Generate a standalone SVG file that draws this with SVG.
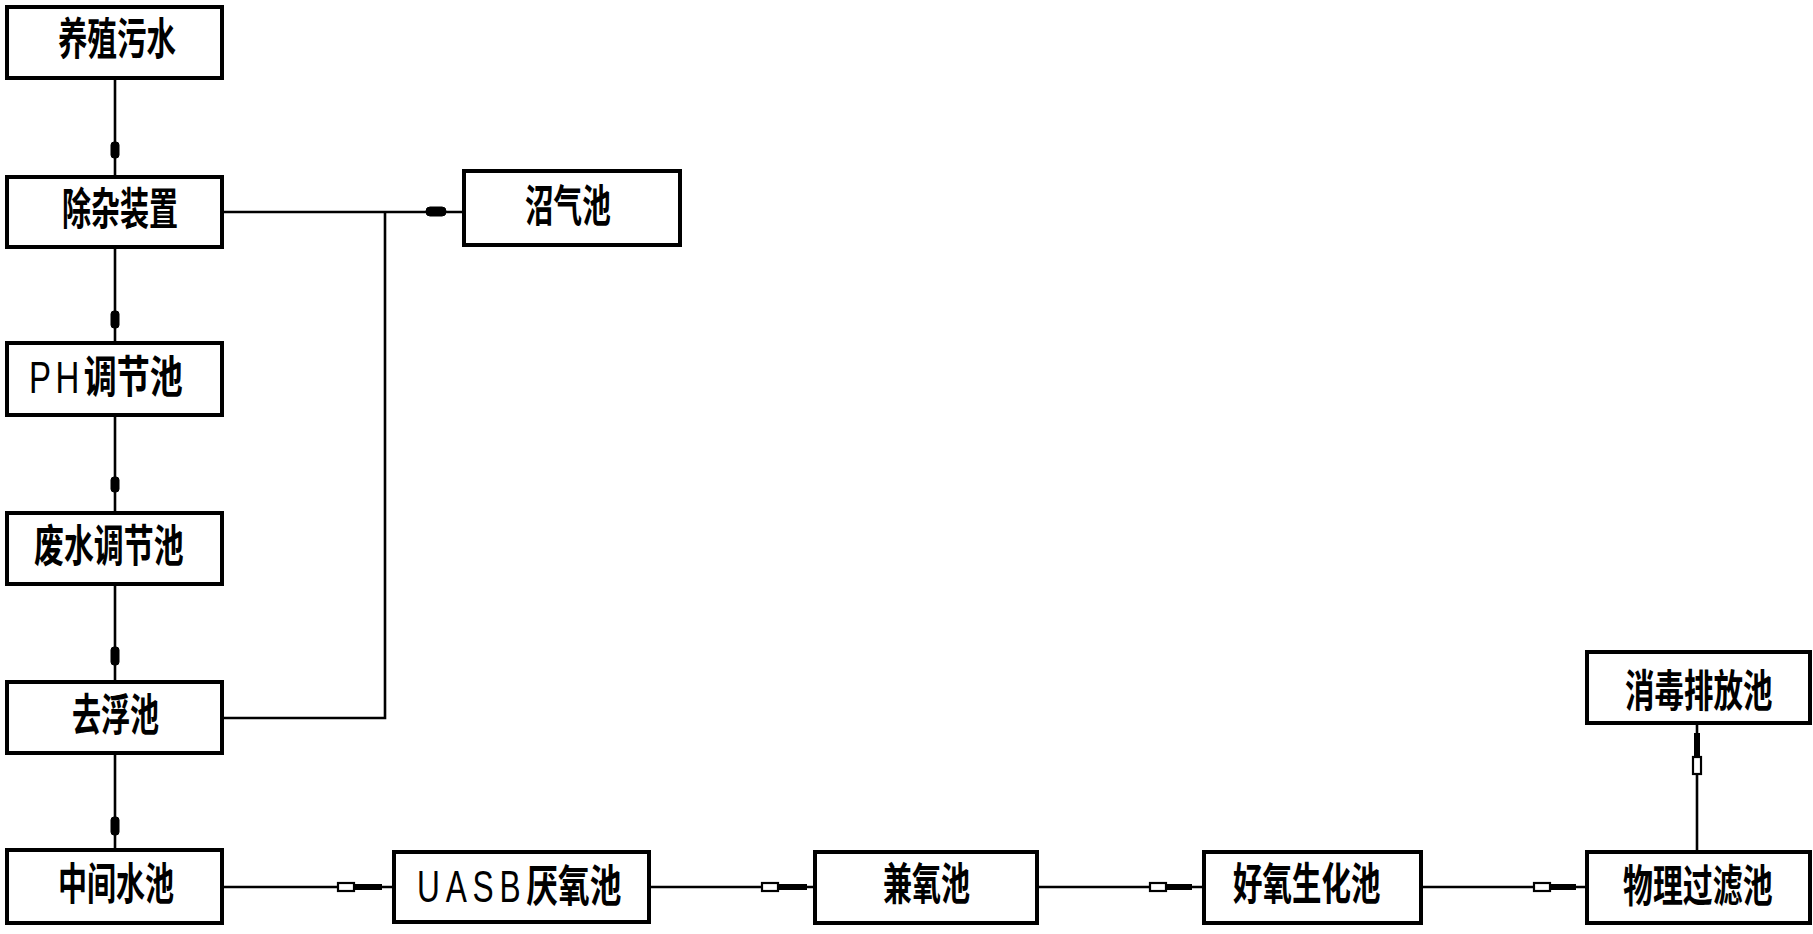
<svg xmlns="http://www.w3.org/2000/svg" width="1813" height="934" viewBox="0 0 1813 934">
<style>
.box{fill:#fff;stroke:#000;stroke-width:4}
.ln{fill:none;stroke:#000;stroke-width:2.6}
.mk{fill:#000;stroke:#000;stroke-width:1}
.hm{fill:#fff;stroke:#000;stroke-width:2.2}
.dk{stroke:#000;stroke-width:6;fill:none}
.t{font-family:"Noto Sans CJK SC","Noto Sans",sans-serif;font-weight:bold;font-size:44px;fill:#000}
.lat{font-family:"Liberation Sans",Arial,sans-serif;font-weight:normal}
</style>
<rect width="1813" height="934" fill="#fff"/>
<g id="connectors">
  <line class="ln" x1="115" y1="78" x2="115" y2="177"/>
  <line class="ln" x1="115" y1="247" x2="115" y2="343"/>
  <line class="ln" x1="115" y1="415" x2="115" y2="513"/>
  <line class="ln" x1="115" y1="584" x2="115" y2="682"/>
  <line class="ln" x1="115" y1="753" x2="115" y2="850"/>
  <rect class="mk" x="111" y="142" width="8" height="16" rx="3"/>
  <rect class="mk" x="111" y="311" width="8" height="17" rx="3"/>
  <rect class="mk" x="111" y="477" width="8" height="15" rx="3"/>
  <rect class="mk" x="111" y="647" width="8" height="18" rx="3"/>
  <rect class="mk" x="111" y="817" width="8" height="18" rx="3"/>
  <polyline class="ln" points="222,212 464,212"/>
  <polyline class="ln" points="222,718 385,718 385,212"/>
  <rect class="mk" x="426" y="207" width="20" height="9" rx="4"/>
  <line class="ln" x1="222" y1="887" x2="394" y2="887"/>
  <line class="ln" x1="649" y1="887" x2="815" y2="887"/>
  <line class="ln" x1="1037" y1="887" x2="1204" y2="887"/>
  <line class="ln" x1="1421" y1="887" x2="1587" y2="887"/>
  <line class="ln" x1="1697" y1="723" x2="1697" y2="852"/>
  <g id="m1"><rect class="hm" x="338" y="883" width="16" height="8"/><line class="dk" x1="354" y1="887" x2="382" y2="887"/></g>
  <g id="m2"><rect class="hm" x="762" y="883" width="16" height="8"/><line class="dk" x1="778" y1="887" x2="807" y2="887"/></g>
  <g id="m3"><rect class="hm" x="1150" y="883" width="16" height="8"/><line class="dk" x1="1166" y1="887" x2="1192" y2="887"/></g>
  <g id="m4"><rect class="hm" x="1534" y="883" width="16" height="8"/><line class="dk" x1="1550" y1="887" x2="1576" y2="887"/></g>
  <g id="m5"><rect class="hm" x="1693" y="757" width="8" height="17"/><line class="dk" x1="1697" y1="733" x2="1697" y2="757"/></g>
</g>
<g id="n1"><rect class="box" x="7" y="7" width="215" height="71"/><text class="t" transform="translate(58,55) scale(0.67,1)">养殖污水</text></g>
<g id="n2"><rect class="box" x="7" y="177" width="215" height="70"/><text class="t" transform="translate(62,225) scale(0.66,1)">除杂装置</text></g>
<g id="n3"><rect class="box" x="7" y="343" width="215" height="72"/><text class="t" transform="translate(29,393) scale(0.75,1)"><tspan class="lat" letter-spacing="6">PH</tspan>调节池</text></g>
<g id="n4"><rect class="box" x="7" y="513" width="215" height="71"/><text class="t" transform="translate(34,562) scale(0.68,1)">废水调节池</text></g>
<g id="n5"><rect class="box" x="7" y="682" width="215" height="71"/><text class="t" transform="translate(72,731) scale(0.66,1)">去浮池</text></g>
<g id="n6"><rect class="box" x="7" y="850" width="215" height="73"/><text class="t" transform="translate(58,900) scale(0.66,1)">中间水池</text></g>
<g id="n7"><rect class="box" x="464" y="171" width="216" height="74"/><text class="t" transform="translate(525,222) scale(0.65,1)">沼气池</text></g>
<g id="n8"><rect class="box" x="394" y="852" width="255" height="70"/><text class="t" transform="translate(417,902) scale(0.72,1)"><tspan class="lat" letter-spacing="8">UASB</tspan>厌氧池</text></g>
<g id="n9"><rect class="box" x="815" y="852" width="222" height="71"/><text class="t" transform="translate(883,900) scale(0.66,1)">兼氧池</text></g>
<g id="n10"><rect class="box" x="1204" y="852" width="217" height="71"/><text class="t" transform="translate(1233,900) scale(0.67,1)">好氧生化池</text></g>
<g id="n11"><rect class="box" x="1587" y="852" width="223" height="71"/><text class="t" transform="translate(1623,902) scale(0.68,1)">物理过滤池</text></g>
<g id="n12"><rect class="box" x="1587" y="652" width="223" height="71"/><text class="t" transform="translate(1625,707) scale(0.67,1)">消毒排放池</text></g>
</svg>
